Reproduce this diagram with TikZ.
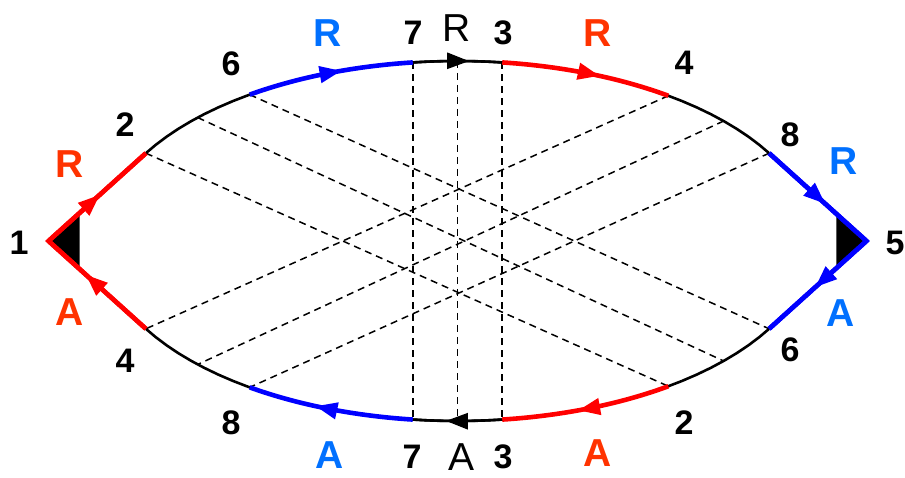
\documentclass[tikz,border=0pt]{standalone}
\usepackage{fontspec}
\setmainfont{Liberation Sans}
\usetikzlibrary{arrows.meta,decorations.markings,calc}
\definecolor{lred}{RGB}{255,0,0}
\definecolor{lblue}{RGB}{0,0,255}
\definecolor{tred}{RGB}{255,51,0}
\definecolor{tblue}{RGB}{0,112,255}
\newcommand\earc[2]{plot[domain=#1:#2,samples=40,variable=\t]({ex(\t)},{ey(\t)})}
\begin{document}
\begin{tikzpicture}[x=1pt,y=-1pt,
  declare function={ex(\t)=457.5+357*cos(\t); ey(\t)=241+180*sin(\t);},
  curve/.style={line width=2.6pt,black},
  redseg/.style={line width=4.6pt,lred},
  blueseg/.style={line width=4.6pt,lblue},
  dline/.style={line width=1.5pt,black,dash pattern=on 7pt off 5pt},
  arr/.style={postaction={decorate},decoration={markings,
     mark=at position #1 with {\arrow{Triangle[length=22pt,width=16pt]}}}},
  digit/.style={font=\fontsize{34}{34}\selectfont\bfseries,inner sep=0pt},
  cletter/.style={font=\fontsize{39}{39}\selectfont\bfseries,inner sep=0pt},
  bletter/.style={font=\fontsize{39}{39}\selectfont,inner sep=0pt}]
\useasboundingbox (0,0) rectangle (905,478);
% points on the contour
\coordinate (c1) at (48.5,241);
\coordinate (c5) at (866.5,241);
\foreach \n/\a in {T2/209.2,TM1/223.3,T6/234.4,T7/262.8,Ttop/270,T3/277.2,T4/306.2,TM2/318.2,T8/330.8,
                   B6/29.2,BM1/41.8,B2/53.8,B3/82.8,Bbot/90,B7/97.2,B8/125.6,BM2/136.7,B4/150.8}
  \coordinate (\n) at ({ex(\a)},{ey(\a)});
% dashed lines
\draw[dline] (T2) -- (B2);
\draw[dline] (TM1) -- (BM1);
\draw[dline] (T6) -- (B6);
\draw[dline] (T4) -- (B4);
\draw[dline] (TM2) -- (BM2);
\draw[dline] (T8) -- (B8);
\draw[dline] (T7) -- (B7);
\draw[dline] (Ttop) -- (Bbot);
\draw[dline] (T3) -- (B3);
% black contour
\draw[curve] \earc{209.2}{330.8};
\draw[curve] \earc{29.2}{150.8};
\draw[curve,arr=0.63] \earc{262.8}{277.2};
\draw[curve,arr=0.63] \earc{82.8}{97.2};
% corner triangles
\fill (c1) -- ($(c1)!0.32!(T2)$) -- ($(c1)!0.32!(B4)$) -- cycle;
\fill (c5) -- ($(c5)!0.31!(T8)$) -- ($(c5)!0.31!(B6)$) -- cycle;
% coloured segments
\draw[blueseg,arr=0.57] \earc{234.4}{262.8};
\draw[redseg,arr=0.58] \earc{277.2}{306.2};
\draw[redseg,arr=0.55] \earc{53.8}{82.8};
\draw[blueseg,arr=0.59] \earc{97.2}{125.6};
\draw[redseg,line join=miter] (B4) -- (c1) -- (T2);
\draw[blueseg,line join=miter] (T8) -- (c5) -- (B6);
\draw[redseg,arr=0.53] (c1) -- (T2);
\draw[redseg,arr=0.62] (B4) -- (c1);
\draw[blueseg,arr=0.58] (T8) -- (c5);
\draw[blueseg,arr=0.53] (c5) -- (B6);
% labels
\node[digit] (l1) at (19,243) {1};
\node[digit] (l5) at (895,243) {5};
\node[digit] (lt2) at (125,125) {2};
\node[digit] (lt6) at (231,64) {6};
\node[digit] (lt7) at (413,33) {7};
\node[digit] (lt3) at (503,33) {3};
\node[digit] (lt4) at (684,63) {4};
\node[digit] (lt8) at (790,135) {8};
\node[digit] (lb4) at (125,361) {4};
\node[digit] (lb8) at (231,423) {8};
\node[digit] (lb7) at (412,457) {7};
\node[digit] (lb3) at (503,457) {3};
\node[digit] (lb2) at (684,423) {2};
\node[digit] (lb6) at (790,350) {6};
\node[bletter] (lR) at (457,28) {R};
\node[bletter] (lA) at (462,457) {A};
\node[cletter,text=tred] (rl) at (70,164) {R};
\node[cletter,text=tred] (al) at (70,312) {A};
\node[cletter,text=tblue] (rt) at (328,33) {R};
\node[cletter,text=tred] (rt2) at (598,33) {R};
\node[cletter,text=tblue] (rr) at (844,161) {R};
\node[cletter,text=tblue] (ar) at (841,313) {A};
\node[cletter,text=tblue] (ab) at (330,455) {A};
\node[cletter,text=tred] (ab2) at (598,453) {A};
\end{tikzpicture}
\end{document}
